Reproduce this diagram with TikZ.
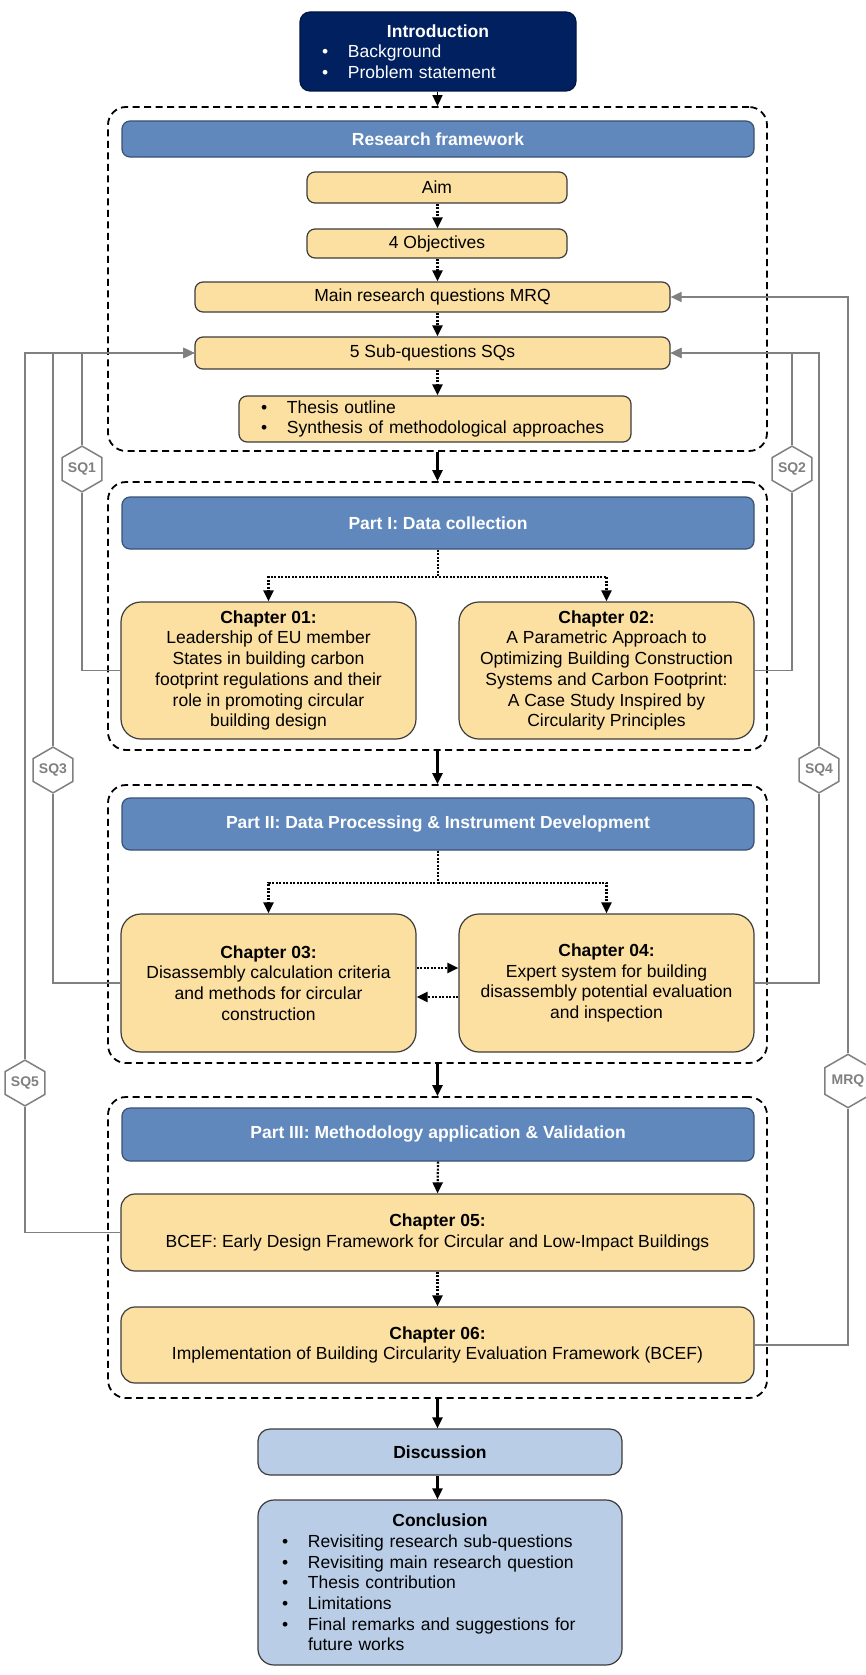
\documentclass[tikz,border=0pt]{standalone}
\usepackage{fontspec}
\setmainfont{Liberation Sans}
\usetikzlibrary{arrows.meta,shapes.geometric}
\definecolor{navy}{RGB}{0,32,96}
\definecolor{hdr}{RGB}{96,136,188}
\definecolor{ylw}{RGB}{252,224,162}
\definecolor{lblue}{RGB}{185,205,230}
\definecolor{gcol}{RGB}{128,128,128}
\definecolor{bord}{RGB}{60,60,60}
\setlength{\parindent}{0pt}
\newcommand\bx[7]{\node[#2, minimum width={(#5)-(#3)}, minimum height={(#6)-(#4)}, inner sep=0pt] (#1) at ({((#3)+(#5))/2},{((#4)+(#6))/2}) {#7};}
\newcommand\bul[2]{\hspace*{#1}\makebox[26pt][l]{\textbullet}#2}
\tikzset{
 base/.style={draw=bord, line width=1.2pt, align=center, font=\fontsize{17.5}{20.7}\selectfont},
 ybox/.style={base, fill=ylw, rounded corners=8pt},
 chbox/.style={base, fill=ylw, rounded corners=20pt},
 hbox/.style={base, draw=hdr!60!black, fill=hdr, rounded corners=8pt, text=white, font=\fontsize{17.5}{20.7}\selectfont\bfseries},
 bbox/.style={base, fill=lblue, rounded corners=12pt},
 dbox/.style={draw=black, line width=1.8pt, dash pattern=on 7pt off 4.5pt, rounded corners=18pt},
 hexa/.style={regular polygon, regular polygon sides=6, shape border rotate=30, minimum size=44pt, inner sep=0pt, draw=gcol, line width=1.5pt, fill=white, text=gcol, font=\fontsize{14}{16}\selectfont\bfseries},
 gln/.style={draw=gcol, line width=1.8pt},
 garr/.style={draw=gcol, line width=1.8pt, -{Triangle[width=10pt,length=11pt]}},
 sarr/.style={line width=2.2pt, -{Triangle[width=10pt,length=11pt]}},
 darr/.style={line width=2.2pt, dash pattern=on 2pt off 1.5pt, -{Triangle[width=10pt,length=11pt]}},
}
\begin{document}
\begin{tikzpicture}[x=1pt,y=-1pt]
\fill[white] (0,0) rectangle (865,1675);
\useasboundingbox (0,0) rectangle (865,1675);

% dashed groups
\bx{fw}{dbox}{108}{107}{767}{451}{}
\bx{p1}{dbox}{108}{482}{767}{750}{}
\bx{p2}{dbox}{108}{785}{767}{1063}{}
\bx{p3}{dbox}{108}{1097}{767}{1398}{}

% boxes
\bx{intro}{base, draw=navy!70!black, fill=navy, rounded corners=10pt, text=white, text width=276pt, align=left}{300}{12}{576}{91}{{\centering\bfseries Introduction\par}\bul{22pt}{Background}\\\bul{22pt}{Problem statement}}
\bx{rf}{hbox}{122}{121}{754}{157}{Research framework}
\bx{aim}{ybox}{307}{172}{567}{203}{Aim}
\bx{obj}{ybox}{307}{229}{567}{258}{4 Objectives}
\bx{mrq}{ybox}{195}{282}{670}{312}{Main research questions MRQ}
\bx{sqs}{ybox}{195}{337}{670}{369}{5 Sub-questions SQs}
\bx{thesis}{ybox, text width=392pt, align=left}{239}{396}{631}{442}{\bul{22pt}{Thesis outline}\\\bul{22pt}{Synthesis of methodological approaches}}

\bx{p1h}{hbox}{122}{497}{754}{549}{Part I: Data collection}
\bx{ch01}{chbox}{121}{602}{416}{739}{\textbf{Chapter 01:}\\Leadership of EU member\\States in building carbon\\footprint regulations and their\\role in promoting circular\\building design}
\bx{ch02}{chbox}{459}{602}{754}{739}{\textbf{Chapter 02:}\\A Parametric Approach to\\Optimizing Building Construction\\Systems and Carbon Footprint:\\A Case Study Inspired by\\Circularity Principles}

\bx{p2h}{hbox}{122}{798}{754}{850}{Part II: Data Processing \& Instrument Development}
\bx{ch03}{chbox}{121}{914}{416}{1052}{\textbf{Chapter 03:}\\Disassembly calculation criteria\\and methods for circular\\construction}
\bx{ch04}{chbox}{459}{914}{754}{1052}{\textbf{Chapter 04:}\\Expert system for building\\disassembly potential evaluation\\and inspection}

\bx{p3h}{hbox}{122}{1108}{754}{1161}{Part III: Methodology application \& Validation}
\bx{ch05}{ybox, rounded corners=14pt}{121}{1194}{754}{1271}{\textbf{Chapter 05:}\\BCEF: Early Design Framework for Circular and Low-Impact Buildings}
\bx{ch06}{ybox, rounded corners=14pt}{121}{1307}{754}{1383}{\textbf{Chapter 06:}\\Implementation of Building Circularity Evaluation Framework (BCEF)}

\bx{disc}{bbox, font=\fontsize{17.5}{20.7}\selectfont\bfseries}{258}{1429}{622}{1475}{Discussion}
\bx{concl}{bbox, rounded corners=16pt, text width=364pt, align=left}{258}{1500}{622}{1665}{{\centering\bfseries Conclusion\par}\bul{24pt}{Revisiting research sub-questions}\\\bul{24pt}{Revisiting main research question}\\\bul{24pt}{Thesis contribution}\\\bul{24pt}{Limitations}\\\bul{24pt}{Final remarks and suggestions for}\\\hspace*{50pt}future works}

% hexagon labels
\node[hexa] (hq1) at (82,469) {SQ1};
\node[hexa] (hq2) at (792,469) {SQ2};
\node[hexa] (hq3) at (53,770) {SQ3};
\node[hexa] (hq4) at (819,770) {SQ4};
\node[hexa] (hq5) at (25,1083) {SQ5};
\node[hexa] (hqm) at (848,1081) {MRQ};

% gray feedback connectors
\draw[gln] (ch01.west) -| (hq1.south);
\draw[garr] (hq1.north) |- (sqs.west);
\draw[gln] (ch03.west) -| (hq3.south);
\draw[garr] (hq3.north) |- (sqs.west);
\draw[gln] (ch05.west) -| (hq5.south);
\draw[garr] (hq5.north) |- (sqs.west);
\draw[gln] (ch02.east) -| (hq2.south);
\draw[garr] (hq2.north) |- (sqs.east);
\draw[gln] (ch04.east) -| (hq4.south);
\draw[garr] (hq4.north) |- (sqs.east);
\draw[gln] (ch06.east) -| (hqm.south);
\draw[garr] (hqm.north) |- (mrq.east);

% main flow (solid)
\draw[sarr, line width=1.6pt] (intro.south -| fw.north) -- (fw.north);
\draw[sarr] (fw.south) -- (p1.north);
\draw[sarr] (p1.south) -- (p2.north);
\draw[sarr] (p2.south) -- (p3.north);
\draw[sarr] (p3.south) -- (p3.south |- disc.north);
\draw[sarr] (p3.south |- disc.south) -- (p3.south |- concl.north);

% dotted flow
\draw[darr] (fw.north |- aim.south) -- (fw.north |- obj.north);
\draw[darr] (fw.north |- obj.south) -- (fw.north |- mrq.north);
\draw[darr] (fw.north |- mrq.south) -- (fw.north |- sqs.north);
\draw[darr] (fw.north |- sqs.south) -- (fw.north |- thesis.north);
\draw[darr] (p1h.south) -- ++(0,27) -| (ch01.north);
\draw[darr] (p1h.south) -- ++(0,27) -| (ch02.north);
\draw[darr] (p2h.south) -- ++(0,32) -| (ch03.north);
\draw[darr] (p2h.south) -- ++(0,32) -| (ch04.north);
\draw[darr] ([yshift=15pt]ch03.east) -- ([yshift=15pt]ch04.west);
\draw[darr] ([yshift=-14pt]ch04.west) -- ([yshift=-14pt]ch03.east);
\draw[darr] (p3h.south) -- (ch05.north);
\draw[darr] (ch05.south) -- (ch06.north);
\end{tikzpicture}
\end{document}
